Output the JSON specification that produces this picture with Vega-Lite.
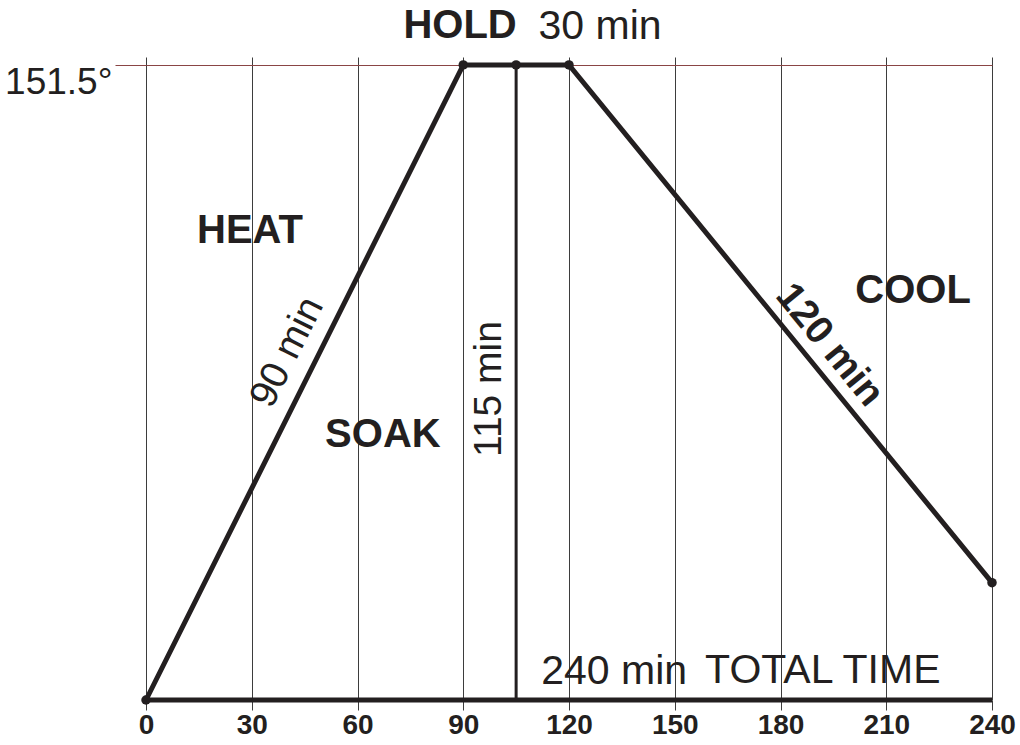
{
  "$schema": "https://vega.github.io/schema/vega-lite/v6.json",
  "width": 846,
  "height": 643,
  "autosize": "none",
  "padding": {"left": 146, "top": 57, "right": 28, "bottom": 45},
  "background": "white",
  "config": {"view": {"stroke": null}, "font": "Liberation Sans"},
  "datasets": {
    "profile": [
      {"t": 0, "temp": 0, "seg": "profile"},
      {"t": 90, "temp": 151.5, "seg": "profile"},
      {"t": 120, "temp": 151.5, "seg": "profile"},
      {"t": 240, "temp": 28, "seg": "profile"},
      {"t": 0, "temp": 0, "seg": "base"},
      {"t": 240, "temp": 0, "seg": "base"}
    ],
    "points": [
      {"t": 0, "temp": 0},
      {"t": 90, "temp": 151.5},
      {"t": 105, "temp": 151.5},
      {"t": 120, "temp": 151.5},
      {"t": 240, "temp": 28}
    ],
    "soak": [{"t": 105, "low": 0, "high": 151.5}],
    "labels": [
      {"t": 89.1, "temp": 160.7, "text": "HOLD", "kind": "bold"},
      {"t": 29.5, "temp": 111.9, "text": "HEAT", "kind": "bold"},
      {"t": 67.2, "temp": 63.2, "text": "SOAK", "kind": "bold"},
      {"t": 217.6, "temp": 97.6, "text": "COOL", "kind": "bold"},
      {"t": 128.8, "temp": 160.6, "text": "30 min", "kind": "regular"},
      {"t": 132.8, "temp": 6.7, "text": "240 min", "kind": "regular"},
      {"t": 192.0, "temp": 6.9, "text": "TOTAL TIME", "kind": "regular"},
      {"t": 40.0, "temp": 83.0, "text": "90 min", "kind": "heat"},
      {"t": 97.3, "temp": 74.2, "text": "115 min", "kind": "soak"},
      {"t": 194.0, "temp": 84.7, "text": "120 min", "kind": "cool"}
    ]
  },
  "encoding": {
    "x": {
      "field": "t",
      "type": "quantitative",
      "scale": {"domain": [0, 240], "nice": false, "zero": false},
      "axis": {
        "title": null,
        "values": [0, 30, 60, 90, 120, 150, 180, 210, 240],
        "grid": true,
        "gridColor": "#3d3d3d",
        "gridWidth": 1,
        "gridOpacity": 1,
        "domain": false,
        "tickSize": 10,
        "tickColor": "#3d3d3d",
        "tickWidth": 1,
        "labelFont": "Liberation Sans",
        "labelFontSize": 28,
        "labelFontWeight": "bold",
        "labelColor": "#231f20",
        "labelPadding": 1,
        "labelBound": false,
        "labelFlush": false,
        "labelOverlap": false
      }
    },
    "y": {
      "field": "temp",
      "type": "quantitative",
      "scale": {"domain": [0, 153.4], "nice": false, "zero": false},
      "axis": {
        "title": null,
        "orient": "left",
        "values": [151.5],
        "labelExpr": "'151.5°'",
        "grid": true,
        "gridColor": "#8a4545",
        "gridWidth": 1,
        "gridOpacity": 1,
        "domain": false,
        "tickSize": 31,
        "tickColor": "#8a4545",
        "tickWidth": 1,
        "labelFont": "Liberation Sans",
        "labelFontSize": 37,
        "labelColor": "#231f20",
        "labelPadding": 3,
        "labelOffset": 18
      }
    }
  },
  "layer": [
    {
      "data": {"name": "soak"},
      "mark": {"type": "rule", "color": "#231f20", "strokeWidth": 3},
      "encoding": {
        "y": {"field": "low", "type": "quantitative"},
        "y2": {"field": "high"}
      }
    },
    {
      "data": {"name": "profile"},
      "mark": {"type": "line", "color": "#231f20", "strokeWidth": 5, "strokeJoin": "miter", "strokeCap": "butt"},
      "encoding": {
        "detail": {"field": "seg", "type": "nominal"},
        "order": {"field": "t", "type": "quantitative"}
      }
    },
    {
      "data": {"name": "points"},
      "mark": {"type": "circle", "color": "#231f20", "opacity": 1, "size": 90}
    },
    {
      "data": {"name": "labels"},
      "transform": [{"filter": "datum.kind === 'bold'"}],
      "mark": {"type": "text", "font": "Liberation Sans", "fontSize": 40, "fontWeight": "bold", "color": "#231f20", "align": "center", "baseline": "middle"},
      "encoding": {"text": {"field": "text"}}
    },
    {
      "data": {"name": "labels"},
      "transform": [{"filter": "datum.kind === 'regular'"}],
      "mark": {"type": "text", "font": "Liberation Sans", "fontSize": 41, "color": "#231f20", "align": "center", "baseline": "middle"},
      "encoding": {"text": {"field": "text"}}
    },
    {
      "data": {"name": "labels"},
      "transform": [{"filter": "datum.kind === 'heat'"}],
      "mark": {"type": "text", "font": "Liberation Sans", "fontSize": 39, "color": "#231f20", "align": "center", "baseline": "middle", "angle": -63.5},
      "encoding": {"text": {"field": "text"}}
    },
    {
      "data": {"name": "labels"},
      "transform": [{"filter": "datum.kind === 'soak'"}],
      "mark": {"type": "text", "font": "Liberation Sans", "fontSize": 39, "color": "#231f20", "align": "center", "baseline": "middle", "angle": -90},
      "encoding": {"text": {"field": "text"}}
    },
    {
      "data": {"name": "labels"},
      "transform": [{"filter": "datum.kind === 'cool'"}],
      "mark": {"type": "text", "font": "Liberation Sans", "fontSize": 39, "fontWeight": "bold", "color": "#231f20", "align": "center", "baseline": "middle", "angle": 50.7},
      "encoding": {"text": {"field": "text"}}
    }
  ]
}
